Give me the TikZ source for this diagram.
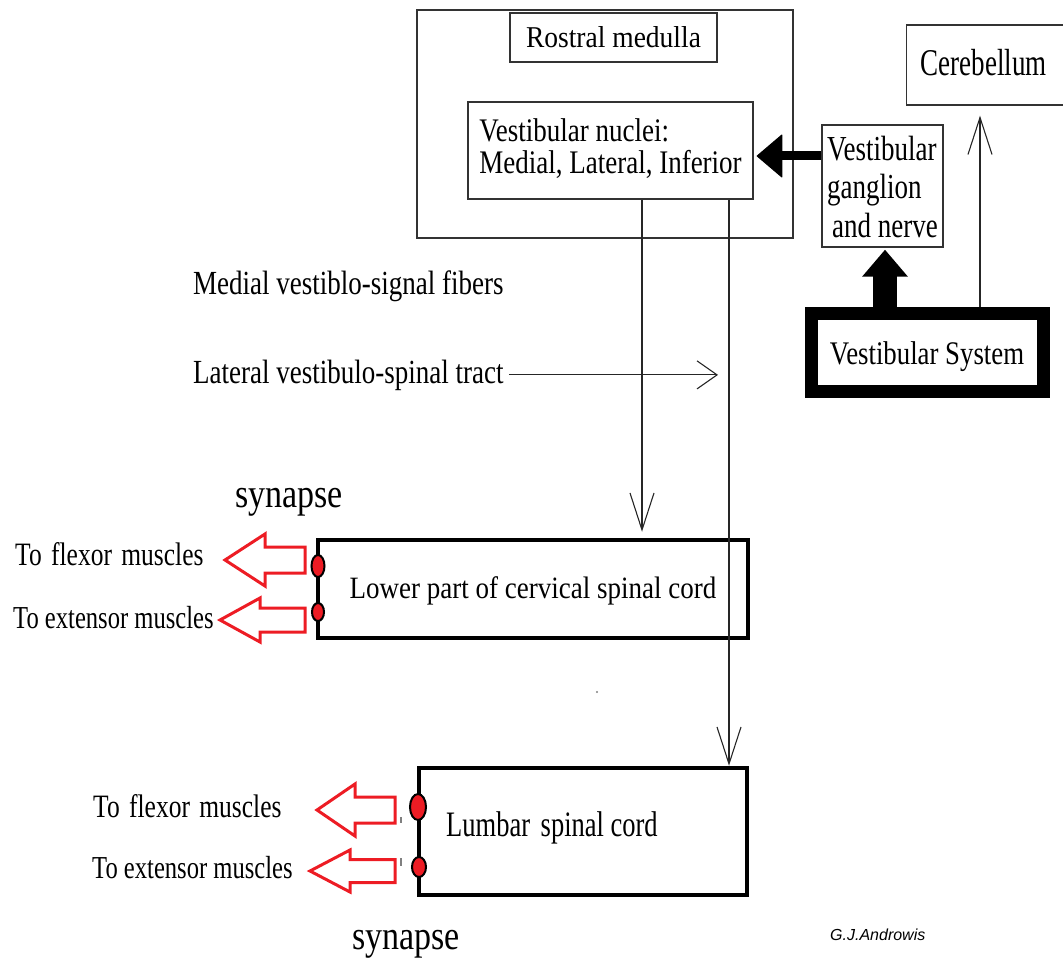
\documentclass[tikz,border=0pt]{standalone}
\usepackage{fontspec}
\setmainfont{Liberation Serif}
\newfontfamily\sigfont{Liberation Sans}
\usetikzlibrary{arrows.meta}
\definecolor{musred}{RGB}{237,28,36}
\newcommand\vs[2]{\scalebox{1}[#1]{#2}}
\newcommand\fsz[2]{\fontsize{#1}{#2}\selectfont}
\newcommand\shiftv[2]{\raisebox{#1}[\height][\depth]{#2}}
\newcommand\redarr[6]{%
  \draw[redar] (#1,#4-#5) -- (#3,#4-#5) -- (#3,#4-#6) -- (#2,#4) -- (#3,#4+#6) -- (#3,#4+#5) -- (#1,#4+#5) -- cycle;}
\begin{document}
\begin{tikzpicture}[x=1pt,y=-1pt,
  box/.style={draw=black!80, line width=1.3pt, inner sep=0pt},
  cord/.style={draw=black, line width=4.5pt, inner sep=0pt},
  lbl/.style={inner sep=0pt, anchor=base west},
  vline/.style={draw=black!85, line width=1.1pt, -{Straight Barb[length=37pt,width=24pt,line width=1.1pt]}},
  hline/.style={draw=black!85, line width=1.1pt, -{Straight Barb[length=20pt,width=28pt,line width=1.1pt]}},
  redar/.style={draw=musred, line width=3pt, line join=miter},
  syn/.style={draw=black, line width=2pt, fill=musred}]
\useasboundingbox (0,0) rectangle (1063,960);
\clip (0,0) rectangle (1063,960);

% boxes
\node[box, minimum width=376pt, minimum height=228pt] (medulla) at (605,124) {};
\node[box, minimum width=207pt, minimum height=49pt, font=\fsz{27.5}{27.5}] (rostral) at (613.5,37.5) {\vs{1.1}{Rostral medulla}};
\node[box, minimum width=285pt, minimum height=97pt, font=\fsz{27}{25}] (nuclei) at (610.5,150.5)
  {\vs{1.22}{\begin{tabular}{@{}l@{}}Vestibular nuclei:\\ Medial, Lateral, Inferior\end{tabular}}};
\node[box, minimum width=121pt, minimum height=122pt, font=\fsz{27}{29.6}] (ganglion) at (882.5,186)
  {\shiftv{-5pt}{\vs{1.3}{\begin{tabular}{@{}l@{}}Vestibular\\ ganglion\\ \hspace{5pt}and nerve\end{tabular}}}};
\node[box, anchor=west, minimum height=80pt, inner xsep=14pt, text width=170pt, font=\fsz{27}{27}] (cereb) at (906,65) {\shiftv{2pt}{\vs{1.4}{Cerebellum}}};
\node[draw=black, line width=13pt, minimum width=232pt, minimum height=78pt, inner sep=0pt, font=\fsz{26.8}{26.8}] (vsys) at (927,352) {\shiftv{-5pt}{\vs{1.23}{Vestibular System}}};
\node[cord, minimum width=430pt, minimum height=98pt, font=\fsz{27}{27}] (cerv) at (533,589) {\shiftv{-2pt}{\vs{1.15}{Lower part of cervical spinal cord}}};
\node[cord, minimum width=328pt, minimum height=127pt] (lumb) at (583,831.5) {};
\node[lbl, font=\fsz{26.5}{26.5}] (lumbtxt) at (446,836) {\vs{1.35}{Lumbar\hspace{4pt} spinal cord}};

% labels
\node[lbl, font=\fsz{27}{27}] (medial) at (193,294) {\vs{1.25}{Medial vestiblo-signal fibers}};
\node[lbl, font=\fsz{27}{27}] (lateral) at (193,383) {\vs{1.25}{Lateral vestibulo-spinal tract}};
\node[lbl, font=\fsz{34}{34}] (syn1) at (235,507) {\vs{1.2}{synapse}};
\node[lbl, font=\fsz{34}{34}] (syn2) at (352,949) {\vs{1.2}{synapse}};
\node[lbl, font=\fsz{25.5}{25.5}] (flex1) at (15,565) {\vs{1.28}{To\hspace{3pt} flexor\hspace{3pt} muscles}};
\node[lbl, font=\fsz{24.6}{24.6}] (ext1) at (13,628) {\vs{1.3}{To extensor muscles}};
\node[lbl, font=\fsz{25.5}{25.5}] (flex2) at (93,817) {\vs{1.28}{To\hspace{3pt} flexor\hspace{3pt} muscles}};
\node[lbl, font=\fsz{24.6}{24.6}] (ext2) at (92,878) {\vs{1.3}{To extensor muscles}};
\node[lbl, font=\sigfont\itshape\fsz{16}{16}] (sig) at (830,940) {G.J.Androwis};

% helper coordinates
\coordinate (xm) at (642,0);
\coordinate (xl) at (729,0);
\coordinate (xc) at (980,0);
\coordinate (xu) at (885,0);
\coordinate (yg) at (0,156);
\coordinate (latend) at (718,0);

% connectors
\draw[vline, shorten >=6pt] (nuclei.south -| xm) -- (cerv.north -| xm);
\draw[vline] (nuclei.south -| xl) -- (lumb.north -| xl);
\draw[hline] ([xshift=5pt]lateral.east) -- (latend |- lateral.east);
\draw[line width=9pt, shorten >=3pt, -{Triangle[length=26pt,width=44pt,round,line width=1pt]}] (ganglion.west |- yg) -- (nuclei.east |- yg);
\draw[line width=24pt, shorten >=2pt, -{Triangle[length=27pt,width=44pt]}] (vsys.north -| xu) -- (ganglion.south -| xu);
\draw[vline, shorten >=10pt] (vsys.north -| xc) -- (cereb.south -| xc);

% red arrows
\redarr{305}{225}{265}{560}{13}{26}
\redarr{305}{220}{260}{620}{12}{22}
\redarr{395}{317}{355}{810}{13}{26}
\redarr{395}{310}{350}{871}{11.5}{21}

% synapse dots
\draw[syn] (318,566) ellipse [x radius=6.5pt, y radius=11pt];
\draw[syn] (318,612) ellipse [x radius=6pt, y radius=9pt];
\draw[syn] (418,807) ellipse [x radius=8pt, y radius=13pt];
\draw[syn] (419,867) ellipse [x radius=7pt, y radius=10pt];

% small marks
\draw[gray, line width=1.5pt] (401,817) -- (401,823);
\draw[gray, line width=1.5pt] (401,858) -- (401,866);
\fill[gray] (597,692) circle (1.2pt);
\end{tikzpicture}
\end{document}
